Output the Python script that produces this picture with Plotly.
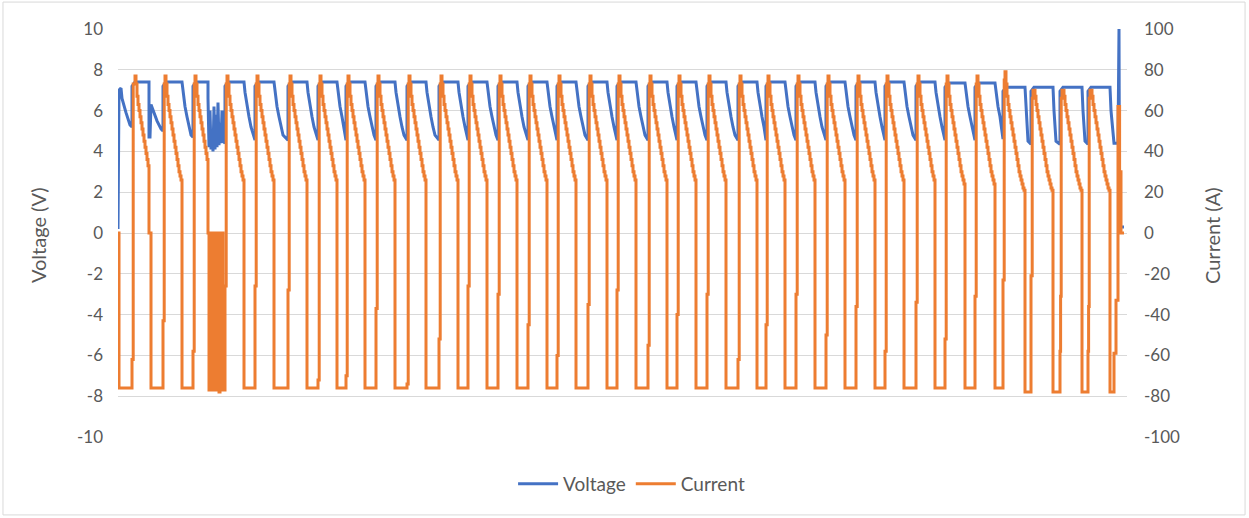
import plotly.graph_objects as go

# ---------------- cycle table (time in samples) ----------------
RISE_T = [14, 45, 75, 107, 137, 170, 200, 228, 258, 289, 321, 350, 380, 410, 439, 470, 499,
          530, 559, 589, 620, 648, 678, 708, 738, 767, 798, 827, 857, 885, 913, 942, 970]
PEAK_T = [17, 47, 77, 109, 139, 172, 202, 230, 260, 291, 323, 352, 382, 412, 441, 472, 501,
          532, 561, 591, 622, 650, 680, 710, 740, 769, 800, 829, 859, 887, 915, 944, 972]
FALL_T = [31, 64, 90, 126, 156, 189, 219, 247, 277, 308, 340, 369, 399, 429, 458, 489, 518,
          549, 578, 608, 639, 667, 697, 727, 757, 786, 817, 847, 877, 907, 935, 964, 992]

# current levels per cycle (A)
PEAK_A = [77, 77, 77, 77, 77, 77, 77, 77, 77, 77, 77, 77, 77, 77, 77, 77, 77,
          77, 77, 77, 77, 77, 77, 77, 77, 77, 77, 77, 77, 79, 70, 70, 70]
JOG_A = [-62, -43, -58, -26, -26, -28, -72, -70, -37, -74, -52, -26, -30, -45, -60, -35, -28,
         -55, -40, -30, -62, -45, -30, -50, -36, -58, -34, -52, -31, -23, -21, -58, -58]
JOG_B = [-62, -43, -58, -26, -26, -28, -72, -70, -37, -74, -52, -26, -30, -45, -60, -35, -28,
         -55, -40, -30, -62, -45, -30, -50, -36, -58, -34, -52, -31, -23, -21, -31, -36]
BOTTOM_A = [-76, -76, -77, -76, -76, -76, -76, -76, -76, -76, -76, -76, -76, -76, -76, -76, -76,
            -76, -76, -76, -76, -76, -76, -76, -76, -76, -76, -76, -76, -78, -78, -78, -78]
# current taper during the constant-voltage phase, by samples after the peak
TAPER_A = [77, 73, 67, 63, 60, 57, 54, 51, 48, 45, 42, 39, 36, 33, 30, 28, 26, 24, 22, 21, 20]

# voltage levels per cycle (V)
V_TOP = [7.4, 7.4, 7.4, 7.4, 7.4, 7.4, 7.4, 7.4, 7.4, 7.4, 7.4, 7.4, 7.4, 7.4, 7.4, 7.4, 7.4,
         7.4, 7.4, 7.4, 7.4, 7.4, 7.4, 7.4, 7.4, 7.4, 7.4, 7.35, 7.35, 7.15, 7.15, 7.15, 7.15]
V_MIN = [5.0, 4.7, 4.4, 4.55, 4.55, 4.55, 4.55, 4.55, 4.55, 4.55, 4.55, 4.55, 4.55, 4.55, 4.55,
         4.55, 4.55, 4.55, 4.55, 4.55, 4.55, 4.55, 4.55, 4.55, 4.55, 4.55, 4.55, 4.55, 4.6,
         4.35, 4.35, 4.35, 4.4]
DROP_PROFILE = ["std"] * 29 + ["late"] * 4

# voltage during discharge, by samples after the current cut-off
VD_STD_T = [1, 3, 5, 7, 9]
VD_STD_V = [6.9, 6.2, 5.7, 5.2, 4.8]
VD_LATE_T = [1, 3]
VD_LATE_V = [6.0, 4.5]

# start of the record
START_T_I = [0, 1]
START_I = [0, -76]
START_T_V = [0, 1, 3, 4, 8, 12, 14]
START_V = [0.2, 7.0, 7.1, 6.6, 5.9, 5.3, 5.2]

# irregular discharges (time, current, voltage)
DIS0_T = [31, 32, 33, 35, 39, 43, 45]
DIS0_I = [0, 0, -76, -76, -76, -76, -76]
DIS0_V = [4.7, 4.7, 6.3, 6.0, 5.5, 5.1, 5.0]
DIS2_T = [90, 91, 92, 93, 94, 95, 96, 97, 98, 99, 100, 101, 102, 103, 104, 105, 107]
DIS2_I = [0, -77, 0, -77, -40, -77, 0, -77, -10, -77, 0, -78, -30, -77, 0, -77, -76]
DIS2_V = [6.6, 4.2, 6.0, 4.1, 5.0, 4.0, 6.2, 4.1, 5.8, 4.2, 6.4, 4.3, 5.4, 4.4, 6.0, 4.5, 4.4]
SPECIAL = {0: (DIS0_T, DIS0_I, DIS0_V), 2: (DIS2_T, DIS2_I, DIS2_V)}

# end of the record
END_T = [996, 997, 998, 999, 1000, 1001, 1001.6, 1003, 1006]
END_I = [-59, -59, -33, -33, 62, 62, 30, 0, 0]
END_V = [4.4, 4.4, 4.4, 4.4, 4.4, 10.0, 0.3, 0.3, 0.3]

# axis ticks
V_TICKS = [-10, -8, -6, -4, -2, 0, 2, 4, 6, 8, 10]
I_TICKS = [-100, -80, -60, -40, -20, 0, 20, 40, 60, 80, 100]

# ---------------- assemble the two records ----------------
t_i, cur = list(START_T_I), list(START_I)
t_v, volt = list(START_T_V), list(START_V)
n = len(PEAK_T)
for c in range(n):
    r, p, f, pk = RISE_T[c], PEAK_T[c], FALL_T[c], PEAK_A[c]
    # current: step up through the jog, then taper (sampled, held between samples)
    t_i += [r, r + 0.6, r + 1.2, p]
    cur += [JOG_A[c], JOG_B[c], pk - 4, pk]
    for k in range(1, f - p):
        t_i.append(p + k)
        cur.append(min(TAPER_A[k], pk))
    # voltage: jump to the charge limit and hold it
    t_v += [r, r + 3, f]
    volt += [V_TOP[c] - 0.2, V_TOP[c], V_TOP[c]]
    r_next = RISE_T[c + 1] if c + 1 < n else END_T[0]
    if c in SPECIAL:
        st, si, sv = SPECIAL[c]
        t_i += st
        cur += si
        t_v += st
        volt += sv
        continue
    t_i.append(f)
    cur.append(BOTTOM_A[c])
    dt_list, dv_list = (VD_STD_T, VD_STD_V) if DROP_PROFILE[c] == "std" else (VD_LATE_T, VD_LATE_V)
    for dt, v in zip(dt_list, dv_list):
        if f + dt < r_next - 1:
            t_v.append(f + dt)
            volt.append(v)
    t_v.append(r_next)
    volt.append(V_MIN[c])

t_i += END_T
cur += END_I
t_v += END_T
volt += END_V

# ---------------- figure ----------------
BLUE = "#4472C4"
ORANGE = "#ED7D31"
GRID = "#D9D9D9"
TXT = "#595959"
FONT = "Lato"

fig = go.Figure()
fig.add_trace(go.Scatter(x=t_v, y=volt, name="Voltage", mode="lines",
                         line=dict(color=BLUE, width=3), yaxis="y"))
fig.add_trace(go.Scatter(x=t_i, y=cur, name="Current", mode="lines",
                         line=dict(color=ORANGE, width=3, shape="hv"), yaxis="y2"))

fig.update_layout(
    width=1249, height=518,
    margin=dict(l=118, r=122, t=29, b=81),
    paper_bgcolor="white", plot_bgcolor="white",
    font=dict(family=FONT, color=TXT, size=17),
    showlegend=True,
    legend=dict(orientation="h", x=0.509, xanchor="center", y=-0.115, yanchor="middle",
                font=dict(size=19, color=TXT), itemwidth=40),
    xaxis=dict(range=[0, 1009], showgrid=False, zeroline=False, showticklabels=False,
               showline=False, ticks=""),
    yaxis=dict(range=[-10, 10], tickvals=V_TICKS, ticktext=[str(v) for v in V_TICKS],
               showgrid=True, gridcolor=GRID, gridwidth=1,
               zeroline=False, showline=False, ticks="", ticklabelstandoff=14,
               tickfont=dict(size=17, color=TXT)),
    yaxis2=dict(range=[-100, 100], tickvals=I_TICKS, ticktext=[str(v) for v in I_TICKS],
                overlaying="y", side="right",
                showgrid=False, zeroline=False, showline=False, ticks="", ticklabelstandoff=16,
                tickfont=dict(size=17, color=TXT)),
    annotations=[
        dict(text="Voltage (V)", textangle=-90, xref="paper", yref="paper",
             x=-0.0793, y=0.495, xanchor="center", yanchor="middle", showarrow=False,
             font=dict(size=20, color=TXT)),
        dict(text="Current (A)", textangle=-90, xref="paper", yref="paper",
             x=1.0842, y=0.495, xanchor="center", yanchor="middle", showarrow=False,
             font=dict(size=20, color=TXT)),
    ],
    shapes=[dict(type="rect", xref="paper", yref="paper", x0=-0.114, x1=1.117,
                 y0=-0.191, y1=1.066, line=dict(color=GRID, width=1), layer="below")],
)

fig.write_html("out.html")
